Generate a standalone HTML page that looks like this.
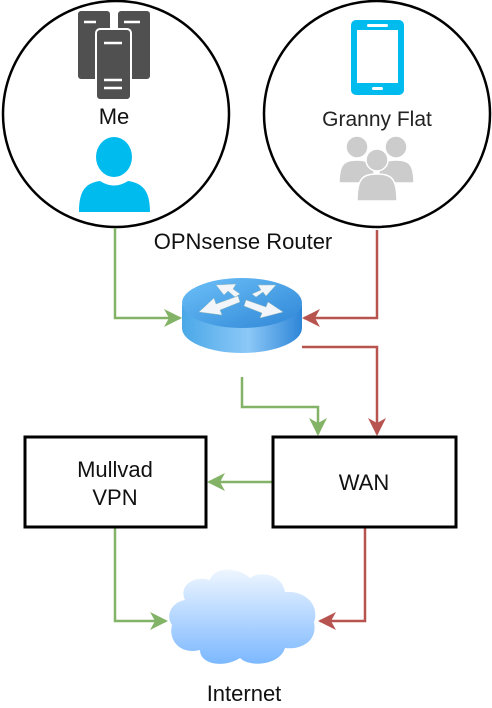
<!DOCTYPE html>
<html><head><style>
html,body{margin:0;padding:0;background:#fff;}
svg{display:block;font-family:"Liberation Sans",Arial,sans-serif;}
</style></head><body>
<svg width="492" height="708" viewBox="0 0 492 708" xmlns="http://www.w3.org/2000/svg">
<defs>
<linearGradient id="rt" x1="0" x2="1"><stop offset="0" stop-color="#4aa8e8"/><stop offset="0.55" stop-color="#8cc8f7"/><stop offset="1" stop-color="#2e86d8"/></linearGradient>
<linearGradient id="rtop" x1="0" x2="1" y1="0" y2="1"><stop offset="0" stop-color="#6cc0f8"/><stop offset="1" stop-color="#2f86d6"/></linearGradient>
<linearGradient id="cl" x1="0" x2="0" y1="0" y2="1"><stop offset="0" stop-color="#eef6ff"/><stop offset="1" stop-color="#7cb8ff"/></linearGradient>
</defs>
<circle cx="116" cy="114" r="113" fill="#fff" stroke="#000" stroke-width="2.5"/>
<circle cx="377" cy="114" r="113" fill="#fff" stroke="#000" stroke-width="2.5"/>
<g fill="#505050" stroke="#fff" stroke-width="2">
<rect x="77" y="10" width="34" height="70" rx="4"/>
<rect x="117" y="10" width="34" height="70" rx="4"/>
<rect x="96" y="29" width="35" height="71" rx="4"/>
</g>
<g stroke="#fff" stroke-width="2.5">
<line x1="84" y1="22" x2="96" y2="22"/><line x1="124" y1="22" x2="140" y2="22"/>
<line x1="104" y1="43" x2="122" y2="43"/><line x1="104" y1="80" x2="122" y2="80"/><line x1="104" y1="88" x2="122" y2="88"/>
</g>
<text x="114" y="124" font-size="22" style="font-size:22px" text-anchor="middle" fill="#111">Me</text>
<ellipse cx="114" cy="157" rx="18" ry="20" fill="#00bbee"/>
<path d="M79,212 C79,190 86,183 100,181 Q114,190 128,181 C142,183 150,190 150,212 Z" fill="#00bbee"/>
<rect x="351" y="20" width="53" height="75" rx="5" fill="#00bbee"/>
<rect x="357" y="30" width="41" height="53" fill="#fff"/>
<rect x="367" y="24" width="21" height="3" rx="1.5" fill="#fff"/>
<rect x="372" y="87" width="11" height="3" rx="1.5" fill="#fff"/>
<text x="377" y="126" font-size="21" style="font-size:21px" text-anchor="middle" fill="#222">Granny Flat</text>
<g fill="#cccccc" stroke="#fff" stroke-width="1.5">
<circle cx="357" cy="147" r="11"/><circle cx="396" cy="147" r="11"/>
<path d="M339,183 C339,163 345,160 357,160 C369,160 375,163 375,183 Z"/>
<path d="M378,183 C378,163 384,160 396,160 C408,160 414,163 414,183 Z"/>
<circle cx="377" cy="160" r="11"/>
<path d="M357,201 C357,178 363,174 377,174 C391,174 397,178 397,201 Z"/>
</g>
<text x="243" y="249" font-size="22" style="font-size:22px" text-anchor="middle" fill="#111">OPNsense Router</text>
<path d="M182,305 L182,328 A60,25 0 0 0 302,328 L302,305 Z" fill="url(#rt)"/>
<ellipse cx="242" cy="303" rx="60" ry="25" fill="url(#rtop)"/>
<g fill="#f2f6fa" stroke="#9bb" stroke-width="0.5">
<path d="M199,312 L214,298 L216,304 L238,296 L240,302 L220,310 L222,315 Z"/>
<path d="M283,312 L268,302 L266,307 L246,300 L244,306 L262,313 L260,318 Z"/>
<path d="M216,285 L236,284 L233,289 L240,294 L235,297 L228,291 L224,295 Z"/>
<path d="M276,285 L258,285 L261,290 L252,294 L256,297 L263,292 L266,296 Z"/>
</g>
<g fill="none" stroke-width="2.5">
<polyline points="115,228 115,318 180,318" stroke="#82b366"/>
<polyline points="377,230 377,318 304,318" stroke="#b85450"/>
<polyline points="302,347 377,347 377,434" stroke="#b85450"/>
<polyline points="242,377 242,407 318,407 318,434" stroke="#82b366"/>
<polyline points="272,482 209,482" stroke="#82b366"/>
<polyline points="115,528 115,621 166,621" stroke="#82b366"/>
<polyline points="365,528 365,621 320,621" stroke="#b85450"/>
</g>
<g fill="#82b366">
<path d="M182,318 L164,309 L169,318 L164,327 Z"/>
<path d="M318,436 L309,418 L318,423 L327,418 Z"/>
<path d="M207,482 L225,473 L220,482 L225,491 Z"/>
<path d="M168,621 L150,612 L155,621 L150,630 Z"/>
</g>
<g fill="#b85450">
<path d="M302,318 L320,309 L315,318 L320,327 Z"/>
<path d="M377,436 L368,418 L377,423 L386,418 Z"/>
<path d="M318,621 L336,612 L331,621 L336,630 Z"/>
</g>
<rect x="25" y="437" width="181" height="90" fill="#fff" stroke="#000" stroke-width="3"/>
<rect x="273" y="437" width="183" height="90" fill="#fff" stroke="#000" stroke-width="3"/>
<text x="115" y="477" font-size="22" style="font-size:22px" text-anchor="middle" fill="#111">Mullvad</text>
<text x="115" y="505" font-size="22" style="font-size:22px" text-anchor="middle" fill="#111">VPN</text>
<text x="364" y="490" font-size="22" style="font-size:22px" text-anchor="middle" fill="#111">WAN</text>
<path d="M185,600 C178,585 195,575 210,580 C215,565 240,568 250,578 C262,570 282,575 285,592 C305,590 320,605 314,622 C318,642 300,650 285,648 C280,665 250,668 240,658 C225,668 200,665 200,650 C180,655 168,640 172,625 C165,615 172,602 185,600 Z" fill="url(#cl)"/>
<text x="244" y="701" font-size="22" style="font-size:22px" text-anchor="middle" fill="#111">Internet</text>
</svg>
</body></html>
